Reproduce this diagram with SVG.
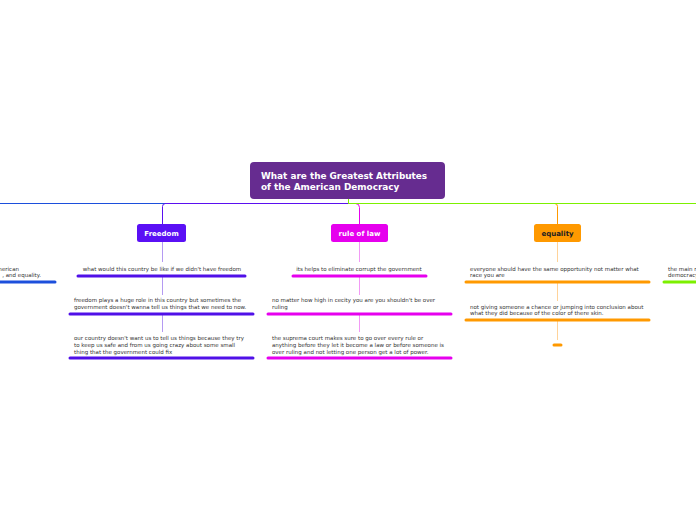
<svg xmlns="http://www.w3.org/2000/svg" width="696" height="520" viewBox="0 0 696 520">
<style>
.t{font-family:"DejaVu Sans",Verdana,sans-serif;font-size:5.5px;fill:#333}
.lbl{font-family:"DejaVu Sans",Verdana,sans-serif;font-size:7px;font-weight:bold}
.ttl{font-family:"DejaVu Sans",Verdana,sans-serif;font-size:8.9px;font-weight:bold;fill:#fff}
.ul{stroke-width:3;stroke-linecap:round;fill:none}
.c{fill:none;stroke-width:1}
</style>
<rect width="696" height="520" fill="#fff"/>
<g id="connectors">
<path class="c" stroke="#1c4fdc" d="M348.5,199 V203.5 H0"/>
<path class="c" stroke="#5a10f0" d="M348.5,199 V203.5 H165.5 Q162.5,203.5 162.5,206.5 V224"/>
<path class="c" stroke="#ff9900" d="M348.5,203.5 H554.5 Q557.5,203.5 557.5,206.5 V224"/>
<path class="c" stroke="#e600ee" d="M348.5,203.5 H355.5 Q359.5,203.5 359.5,207.5 V224"/>
<path class="c" stroke="#7cf000" d="M348.5,199 V203.5 H696"/>
<path class="c" stroke="#b49af2" d="M162.5,242 V262 M162.5,277 V295 M162.5,315 V332"/>
<path class="c" stroke="#f29af5" d="M359.5,242 V262 M359.5,277 V295 M359.5,315 V332"/>
<path class="c" stroke="#ffd39a" d="M557.5,242 V262 M557.5,283 V301 M557.5,321 V340"/>
</g>
<g id="central">
<rect x="250" y="162" width="195" height="37" rx="4" fill="#662c90"/>
<text class="ttl" x="261" y="179">What are the Greatest Attributes</text>
<text class="ttl" x="261" y="190">of the American Democracy</text>
</g>
<g id="left-node">
<text class="t" x="19" y="270.5" text-anchor="end">merican</text>
<text class="t" x="41" y="277" text-anchor="end">, and equality.</text>
<path class="ul" stroke="#1c4fdc" d="M-2,282 H55"/>
</g>
<g id="freedom">
<rect x="137" y="224" width="49" height="18" rx="2.5" fill="#5a10f5"/>
<text class="lbl" x="161.5" y="235.5" text-anchor="middle" fill="#fff">Freedom</text>
</g>
<g id="freedom-1">
<text class="t" x="162" y="270.5" text-anchor="middle">what would this country be like if we didn't have freedom</text>
<path class="ul" stroke="#5010e8" d="M78,276 H245"/>
</g>
<g id="freedom-2">
<text class="t" x="74" y="301.5">freedom plays a huge role in this country but sometimes the</text>
<text class="t" x="74" y="308.5">government doesn't wanna tell us things that we need to now.</text>
<path class="ul" stroke="#5010e8" d="M70,314 H253"/>
</g>
<g id="freedom-3">
<text class="t" x="74" y="339.5">our country doesn't want us to tell us things because they try</text>
<text class="t" x="74" y="346.5">to keep us safe and from us going crazy about some small</text>
<text class="t" x="74" y="353.5">thing that the government could fix</text>
<path class="ul" stroke="#5010e8" d="M70,358 H253"/>
</g>
<g id="rule-of-law">
<rect x="331" y="224" width="57" height="18" rx="2.5" fill="#e600ee"/>
<text class="lbl" x="359.5" y="235.5" text-anchor="middle" fill="#fff">rule of law</text>
</g>
<g id="rule-1">
<text class="t" x="359" y="270.5" text-anchor="middle">its helps to eliminate corrupt the government</text>
<path class="ul" stroke="#e600ee" d="M293,276 H426"/>
</g>
<g id="rule-2">
<text class="t" x="272" y="301.5">no matter how high in cecity you are you shouldn't be over</text>
<text class="t" x="272" y="308.5">ruling</text>
<path class="ul" stroke="#e600ee" d="M268,314 H451"/>
</g>
<g id="rule-3">
<text class="t" x="272" y="339.5">the suprema court makes sure to go over every rule or</text>
<text class="t" x="272" y="346.5">anything before they let it become a law or before someone is</text>
<text class="t" x="272" y="353.5">over ruling and not letting one person get a lot of power.</text>
<path class="ul" stroke="#e600ee" d="M268,358 H451"/>
</g>
<g id="equality">
<rect x="534" y="224" width="47" height="18" rx="2.5" fill="#ff9900"/>
<text class="lbl" x="557.5" y="235.5" text-anchor="middle" fill="#222">equality</text>
</g>
<g id="equality-1">
<text class="t" x="470" y="270.5">everyone should have the same opportunity not matter what</text>
<text class="t" x="470" y="277">race you are</text>
<path class="ul" stroke="#ff9900" d="M466,282 H649"/>
</g>
<g id="equality-2">
<text class="t" x="470" y="308.5">not giving someone a chance or jumping into conclusion about</text>
<text class="t" x="470" y="315">what they did because of the color of there skin.</text>
<path class="ul" stroke="#ff9900" d="M466,320 H649"/>
</g>
<g id="equality-3">
<path class="ul" stroke="#ff9900" d="M554,345 H561"/>
</g>
<g id="right-node">
<text class="t" x="668" y="270.5">the main r</text>
<text class="t" x="668" y="277">democracy</text>
<path class="ul" stroke="#7cf000" d="M664,282 H698"/>
</g>
</svg>
